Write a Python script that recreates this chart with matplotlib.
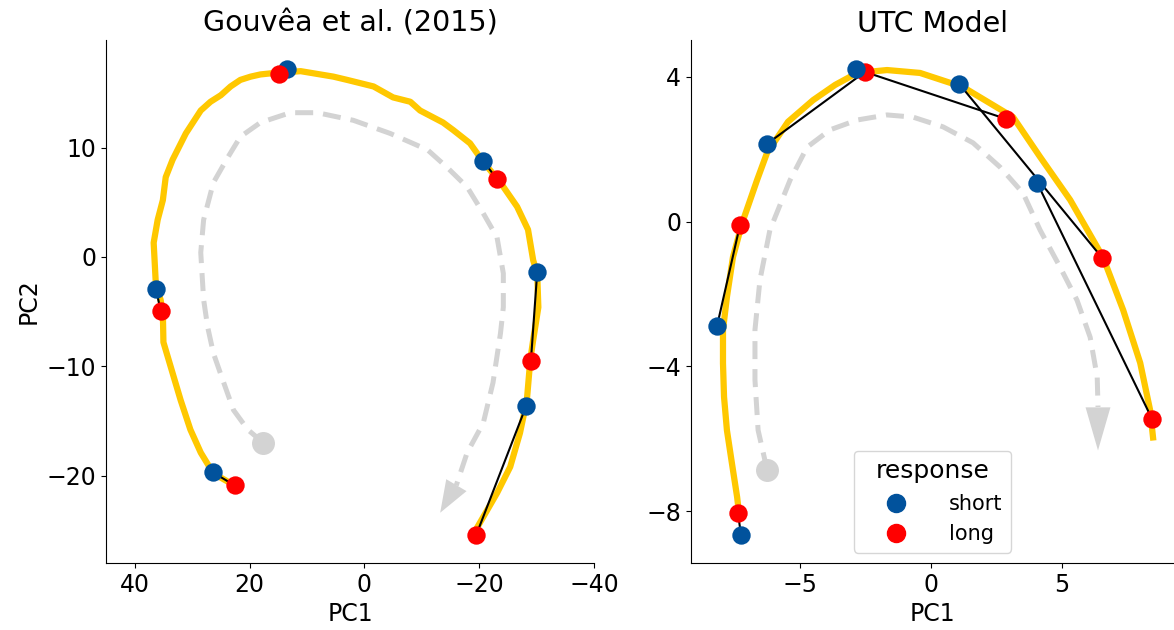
import numpy as np
import matplotlib
matplotlib.use('Agg')
import matplotlib.pyplot as plt
from matplotlib.lines import Line2D

plt.rcParams['font.family'] = 'DejaVu Sans'
plt.rcParams['font.size'] = 17

# Gouvea et al. (2015) - trajectory in PC space
g_traj_x = [23.3, 26.3, 28.5, 30.3, 32.0, 33.7, 35.0, 35.1, 35.5, 36.3, 36.7, 36.0, 35.1, 34.6,
            33.4, 31.1, 28.5, 26.8, 25.0, 23.3, 21.6, 19.8, 18.1, 16.3, 11.1, 5.4, 3.0, -1.6,
            -5.0, -8.0, -9.7, -13.7, -15.5, -18.4, -20.7, -23.7, -26.6, -28.5, -29.4, -30.1,
            -30.3, -29.4, -28.9, -28.3, -27.1, -25.4, -23.1, -19.7]
g_traj_y = [-20.7, -19.8, -17.9, -15.8, -13.1, -10.1, -7.8, -5.1, -3.9, -2.7, 1.3, 3.4, 5.2, 7.3,
            8.9, 11.3, 13.4, 14.2, 14.8, 15.6, 16.2, 16.5, 16.7, 16.8, 17.0, 16.5, 16.2, 15.6,
            14.6, 14.2, 13.4, 12.3, 11.6, 10.4, 8.7, 6.8, 4.6, 2.5, -0.3, -1.5,
            -4.6, -7.6, -9.4, -13.1, -16.1, -19.2, -21.6, -24.7]
g_short_x = [36.3, 26.4, 13.4, -20.7, -30.1, -28.2]
g_short_y = [-2.9, -19.7, 17.2, 8.8, -1.4, -13.6]
g_long_x = [35.5, 22.6, 14.8, -23.1, -29.0, -19.5]
g_long_y = [-4.9, -20.9, 16.7, 7.1, -9.5, -25.4]
g_arrow_x = [17.6, 20.3, 22.8, 24.5, 26.3, 27.3, 28.0, 28.5, 28.0, 26.3, 23.8, 21.6, 18.1, 12.9,
             8.2, 1.9, -4.5, -11.0, -14.4, -17.9, -20.7, -23.1, -24.2, -24.2, -23.7, -22.4,
             -20.7, -17.9, -16.0, -13.2]
g_arrow_y = [-17.0, -15.8, -14.0, -11.5, -8.8, -6.4, -3.9, 0.4, 3.4, 6.8, 9.1, 11.0, 12.3, 13.2,
             13.2, 12.5, 11.3, 9.8, 8.2, 6.4, 4.0, 1.8, -1.5, -4.6, -7.0, -11.5,
             -15.2, -17.9, -20.9, -23.4]

# UTC model
u_traj_x = [-7.33, -7.40, -7.60, -7.79, -7.90, -7.94, -7.94, -7.79, -7.56, -7.21, -6.64, -6.26,
            -5.46, -4.50, -3.66, -2.82, -1.68, -0.42, 1.22, 3.13, 4.16, 5.31, 6.56, 7.33, 7.98,
            8.36, 8.47]
u_traj_y = [-8.05, -7.61, -6.67, -5.76, -4.84, -3.91, -2.99, -2.08, -0.98, -0.04, 1.15, 1.90,
            2.76, 3.36, 3.78, 4.11, 4.19, 4.11, 3.72, 2.89, 1.79, 0.60, -0.98, -2.44, -3.90,
            -5.21, -5.96]
u_short_x = [-7.25, -8.17, -6.26, -2.86, 1.07, 4.05]
u_short_y = [-8.66, -2.89, 2.15, 4.22, 3.81, 1.07]
u_long_x = [-7.37, -7.29, -2.52, 2.86, 6.53, 8.44]
u_long_y = [-8.05, -0.09, 4.14, 2.84, -1.0, -5.46]
u_arrow_x = [-6.26, -6.34, -6.60, -6.72, -6.72, -6.53, -6.15, -5.38, -4.73, -3.85, -2.82, -1.68,
             -0.69, 0.46, 1.60, 2.63, 3.51, 4.16, 4.92, 5.57, 6.07, 6.34, 6.37, 6.37]
u_arrow_y = [-6.86, -6.59, -5.76, -4.37, -2.99, -1.61, -0.23, 1.15, 2.06, 2.54, 2.81, 2.95,
             2.89, 2.62, 2.18, 1.51, 0.79, -0.23, -1.25, -2.17, -3.19, -4.29, -5.12, -6.32]

yellow = '#ffc800'
blue = '#01529c'
red = '#ff0000'
gray = '#d3d3d3'


def draw(ax, tx, ty, sx, sy, lx, ly, ax_x, ax_y, head, blue_on_top):
    # dashed arrow showing the direction of time
    ax.plot(ax_x[:-1], ax_y[:-1], color=gray, lw=3.6, dashes=(3.6, 2.0), zorder=1)
    ax.plot(ax_x[0], ax_y[0], 'o', color=gray, ms=15.5, zorder=1)
    ax.annotate('', xy=(ax_x[-1], ax_y[-1]), xytext=(ax_x[-2], ax_y[-2]),
                arrowprops=dict(arrowstyle='-|>,head_length=%g,head_width=%g' % head,
                                color=gray, lw=0, shrinkA=0, shrinkB=0, mutation_scale=16),
                zorder=1)
    ax.plot(tx, ty, color=yellow, lw=4.5, zorder=2, solid_joinstyle='round')
    for i in range(len(sx)):
        ax.plot([sx[i], lx[i]], [sy[i], ly[i]], color='k', lw=1.5, zorder=3)
    zb, zr = (5, 4) if blue_on_top else (4, 5)
    ax.scatter(sx, sy, s=175, color=blue, zorder=zb, linewidths=0)
    ax.scatter(lx, ly, s=175, color=red, zorder=zr, linewidths=0)
    ax.spines['top'].set_visible(False)
    ax.spines['right'].set_visible(False)
    ax.set_xlabel('PC1')


fig = plt.figure(figsize=(11.74, 6.3), dpi=100)
ax1 = fig.add_axes([0.0903, 0.1063, 0.4157, 0.8302])
ax2 = fig.add_axes([0.5886, 0.1063, 0.4114, 0.8302])

draw(ax1, g_traj_x, g_traj_y, g_short_x, g_short_y, g_long_x, g_long_y,
     g_arrow_x, g_arrow_y, (1.44, 0.53), False)
ax1.set_xlim(45, -40)
ax1.set_ylim(-28, 19.85)
ax1.set_xticks([40, 20, 0, -20, -40])
ax1.set_yticks([10, 0, -10, -20])
ax1.set_ylabel('PC2')
ax1.set_title('Gouvêa et al. (2015)', fontsize=20.5)

draw(ax2, u_traj_x, u_traj_y, u_short_x, u_short_y, u_long_x, u_long_y,
     u_arrow_x, u_arrow_y, (1.94, 0.56), True)
ax2.set_xlim(-9.16, 9.27)
ax2.set_ylim(-9.43, 5.02)
ax2.set_xticks([-5, 0, 5])
ax2.set_yticks([4, 0, -4, -8])
ax2.set_title('UTC Model', fontsize=20.5)

handles = [Line2D([], [], marker='o', ls='', color=blue, ms=13),
           Line2D([], [], marker='o', ls='', color=red, ms=13)]
ax2.legend(handles, ['short', 'long'], title='response', loc='lower center',
           fontsize=15, title_fontsize=18, handlelength=3.2, handletextpad=0.95)

plt.savefig('out.png', dpi=100)
